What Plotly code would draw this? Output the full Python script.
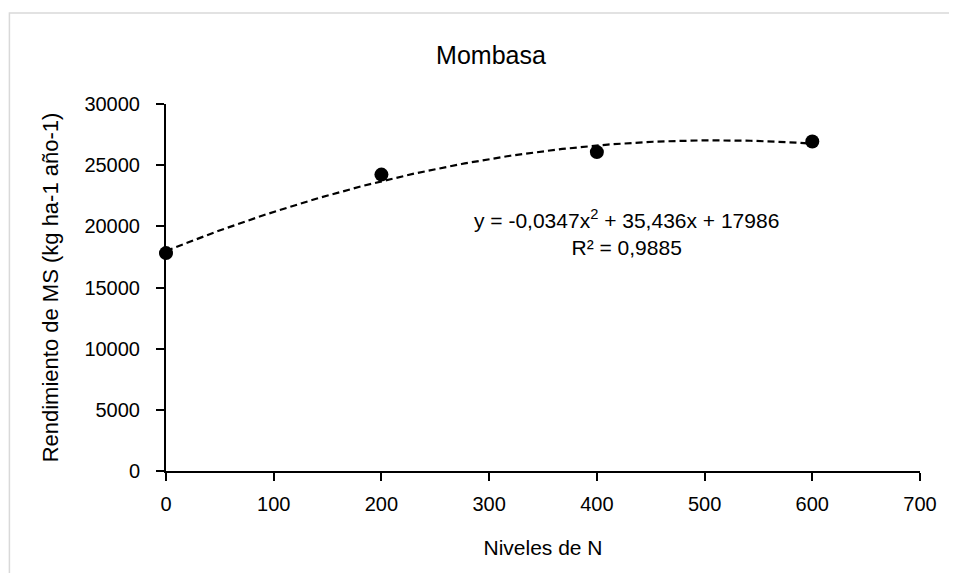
import numpy as np
import plotly.graph_objects as go

# Data
niveles_n = [0, 200, 400, 600]
rendimiento = [17810, 24230, 26070, 26940]
coef = [-0.0347, 35.436, 17986]  # trendline y = a x^2 + b x + c
x_ticks = [0, 100, 200, 300, 400, 500, 600, 700]
y_ticks = [0, 5000, 10000, 15000, 20000, 25000, 30000]

FONT = "Liberation Sans, Arial, sans-serif"

xt = np.linspace(min(niveles_n), max(niveles_n), 200)
yt = np.polyval(coef, xt)

fig = go.Figure()
fig.add_trace(go.Scatter(x=xt, y=yt, mode="lines",
                         line=dict(color="black", width=2.2, dash="7px,4px"),
                         hoverinfo="skip", showlegend=False))
fig.add_trace(go.Scatter(x=niveles_n, y=rendimiento, mode="markers",
                         marker=dict(color="black", size=14),
                         showlegend=False, cliponaxis=False))

# figure is drawn at an 8px page offset
W, H = 941, 565
L, R, T, B = 158, 27, 96, 102
pw, ph = W - L - R, H - T - B

def fx(px):  # screen px -> paper x
    return (px - 8 - L) / pw

def fy(py):  # screen px -> paper y
    return (H - B - (py - 8)) / ph

fig.add_shape(type="rect", xref="paper", yref="paper",
              x0=fx(9), x1=fx(1100),
              y0=fy(700), y1=fy(13),
              line=dict(color="#d9d9d9", width=1.5), layer="below")

fig.add_annotation(x=fx(628), y=fy(232), xref="paper", yref="paper",
                   text="y = -0,0347x<sup>2</sup> + 35,436x + 17986<br>R² = 0,9885",
                   showarrow=False, font=dict(family=FONT, size=21, color="black"),
                   align="center", xanchor="center", yanchor="middle")

fig.update_layout(
    width=W, height=H,
    margin=dict(l=L, r=R, t=T, b=B),
    paper_bgcolor="white", plot_bgcolor="white",
    font=dict(family=FONT, size=20, color="black"),
    title=dict(text="Mombasa", x=(491 - 8) / W, xanchor="center",
               y=1 - (55 - 8) / H, yanchor="middle",
               font=dict(family=FONT, size=25, color="black")),
    xaxis=dict(range=[0, 700], tickvals=x_ticks, showgrid=False, zeroline=False,
               showline=True, linecolor="black", linewidth=2,
               ticks="outside", ticklen=8, tickwidth=2, tickcolor="black",
               ticklabelstandoff=6, tickformat="d",
               title=dict(text="Niveles de N", standoff=26,
                          font=dict(family=FONT, size=21)),
               tickfont=dict(family=FONT, size=20)),
    yaxis=dict(range=[0, 30000], tickvals=y_ticks, showgrid=False, zeroline=False,
               showline=True, linecolor="black", linewidth=2,
               ticks="outside", ticklen=8, tickwidth=2, tickcolor="black",
               ticklabelstandoff=12, tickformat="d",
               title=dict(text="Rendimiento de MS (kg ha-1 año-1)", standoff=20,
                          font=dict(family=FONT, size=22)),
               tickfont=dict(family=FONT, size=20)),
)

fig.write_html("out.html")
